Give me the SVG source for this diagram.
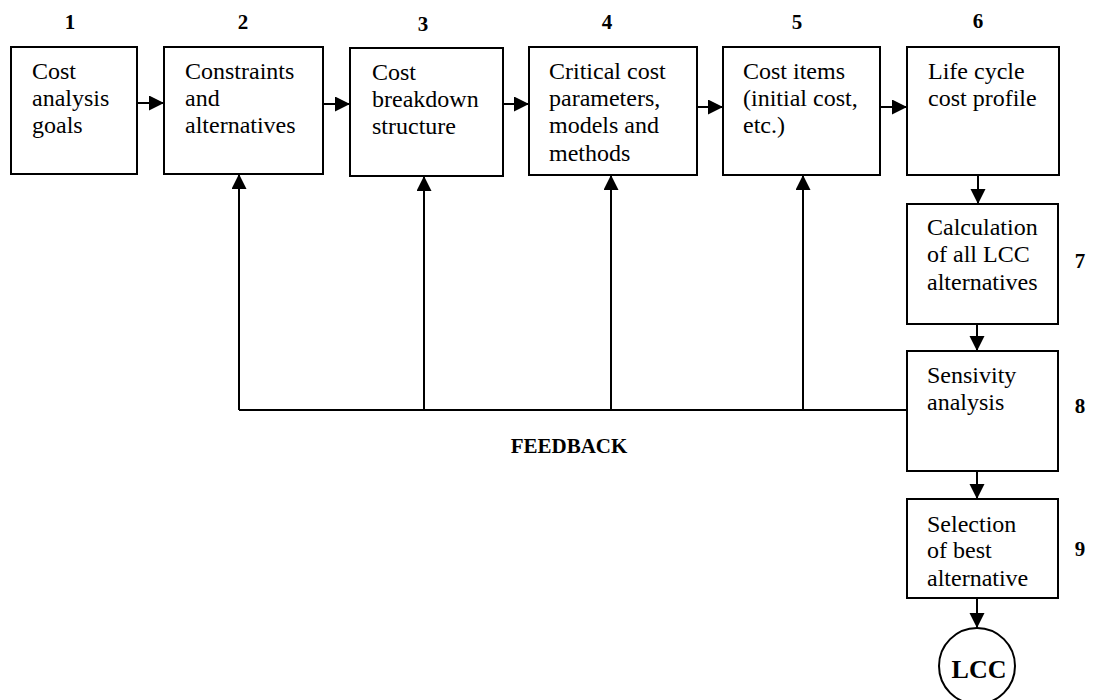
<svg xmlns="http://www.w3.org/2000/svg" width="1097" height="700" viewBox="0 0 1097 700">
<style>
  .box { fill: #fff; stroke: #000; stroke-width: 2; }
  .t { font-family: "Liberation Serif", "Times New Roman", serif; font-size: 24px; fill: #000; }
  .num { font-family: "Liberation Serif", "Times New Roman", serif; font-size: 21px; font-weight: bold; fill: #000; text-anchor: middle; }
  .ln { fill: none; stroke: #000; stroke-width: 2; }
  .arr { fill: none; stroke: #000; stroke-width: 2; marker-end: url(#ah); }
</style>
<defs>
  <marker id="ah" markerUnits="userSpaceOnUse" markerWidth="16" markerHeight="16" refX="15" refY="7.5" orient="auto">
    <path d="M0,0 L15,7.5 L0,15 Z" fill="#000"/>
  </marker>
</defs>
<rect width="1097" height="700" fill="#fff"/>

<g id="connectors">
  <path class="arr" d="M137,103 H164"/>
  <path class="arr" d="M323,104 H350"/>
  <path class="arr" d="M503,104 H529"/>
  <path class="arr" d="M697,107 H723"/>
  <path class="arr" d="M880,107 H907"/>
  <path class="arr" d="M978,175 V204"/>
  <path class="arr" d="M977,324 V351"/>
  <path class="arr" d="M977,471 V499"/>
  <path class="arr" d="M977,598 V628"/>
  <path class="ln" d="M907,410 H239"/>
  <path class="arr" d="M239,410 V174"/>
  <path class="arr" d="M424,410 V176"/>
  <path class="arr" d="M611,410 V175"/>
  <path class="arr" d="M803,410 V175"/>
</g>

<g id="node1">
  <rect class="box" x="11" y="47" width="126" height="127"/>
  <text class="num" x="70" y="29">1</text>
  <text class="t" x="32" y="79">Cost</text>
  <text class="t" x="32" y="106">analysis</text>
  <text class="t" x="32" y="133">goals</text>
</g>
<g id="node2">
  <rect class="box" x="164" y="47" width="159" height="127"/>
  <text class="num" x="243" y="29">2</text>
  <text class="t" x="185" y="79">Constraints</text>
  <text class="t" x="185" y="106">and</text>
  <text class="t" x="185" y="133">alternatives</text>
</g>
<g id="node3">
  <rect class="box" x="350" y="48" width="153" height="128"/>
  <text class="num" x="423" y="31">3</text>
  <text class="t" x="372" y="80">Cost</text>
  <text class="t" x="372" y="107">breakdown</text>
  <text class="t" x="372" y="134">structure</text>
</g>
<g id="node4">
  <rect class="box" x="529" y="47" width="168" height="128"/>
  <text class="num" x="607" y="29">4</text>
  <text class="t" x="549" y="79">Critical cost</text>
  <text class="t" x="549" y="106">parameters,</text>
  <text class="t" x="549" y="133">models and</text>
  <text class="t" x="549" y="161">methods</text>
</g>
<g id="node5">
  <rect class="box" x="723" y="47" width="157" height="128"/>
  <text class="num" x="797" y="29">5</text>
  <text class="t" x="743" y="79">Cost items</text>
  <text class="t" x="743" y="106">(initial cost,</text>
  <text class="t" x="743" y="133">etc.)</text>
</g>
<g id="node6">
  <rect class="box" x="907" y="47" width="152" height="128"/>
  <text class="num" x="978" y="28">6</text>
  <text class="t" x="928" y="79">Life cycle</text>
  <text class="t" x="928" y="106">cost profile</text>
</g>
<g id="node7">
  <rect class="box" x="907" y="204" width="151" height="120"/>
  <text class="num" x="1080" y="268">7</text>
  <text class="t" x="927" y="235">Calculation</text>
  <text class="t" x="927" y="262">of all LCC</text>
  <text class="t" x="927" y="290">alternatives</text>
</g>
<g id="node8">
  <rect class="box" x="907" y="351" width="151" height="120"/>
  <text class="num" x="1080" y="413">8</text>
  <text class="t" x="927" y="383">Sensivity</text>
  <text class="t" x="927" y="410">analysis</text>
</g>
<g id="node9">
  <rect class="box" x="907" y="499" width="151" height="99"/>
  <text class="num" x="1080" y="556">9</text>
  <text class="t" x="927" y="532">Selection</text>
  <text class="t" x="927" y="558">of best</text>
  <text class="t" x="927" y="586">alternative</text>
</g>
<g id="lcc">
  <circle cx="977" cy="666" r="38" fill="#fff" stroke="#000" stroke-width="2"/>
  <text x="979" y="678" text-anchor="middle" font-family="Liberation Serif, 'Times New Roman', serif" font-size="26" font-weight="bold">LCC</text>
</g>
<g id="feedback-label">
  <text x="569" y="453" text-anchor="middle" font-family="Liberation Serif, 'Times New Roman', serif" font-size="21" font-weight="bold">FEEDBACK</text>
</g>
</svg>
